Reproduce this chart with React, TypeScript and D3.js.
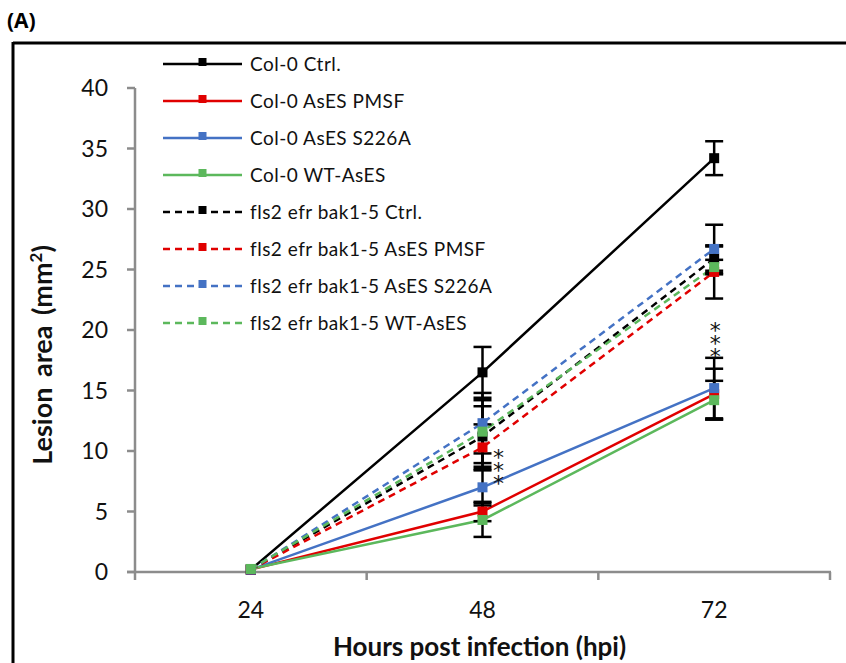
import React from "react";
import * as d3 from "d3";

const hours = ["24", "48", "72"];
const seriesNames = [
  "Col-0 Ctrl.",
  "Col-0 AsES PMSF",
  "Col-0 AsES S226A",
  "Col-0 WT-AsES",
  "fls2 efr bak1-5 Ctrl.",
  "fls2 efr bak1-5 AsES PMSF",
  "fls2 efr bak1-5 AsES S226A",
  "fls2 efr bak1-5 WT-AsES",
];
const seriesColors = ["#000000", "#e00000", "#4472c4", "#5cb85c", "#000000", "#e00000", "#4472c4", "#5cb85c"];
const seriesDashed = [false, false, false, false, true, true, true, true];

const colCtrl = [0.2, 16.5, 34.2];
const colPmsf = [0.2, 5.0, 14.7];
const colS226a = [0.2, 7.0, 15.2];
const colWt = [0.25, 4.3, 14.2];
const mutCtrl = [0.2, 11.2, 25.9];
const mutPmsf = [0.2, 10.3, 24.8];
const mutS226a = [0.2, 12.3, 26.7];
const mutWt = [0.25, 11.6, 25.2];
const seriesValues = [colCtrl, colPmsf, colS226a, colWt, mutCtrl, mutPmsf, mutS226a, mutWt];

const errColCtrl = [0, 2.1, 1.4];
const errColPmsf = [0, 0.8, 2.1];
const errColS226a = [0, 1.5, 2.5];
const errColWt = [0, 1.4, 1.6];
const errMutCtrl = [0, 2.5, 1.0];
const errMutPmsf = [0, 1.9, 2.2];
const errMutS226a = [0, 2.5, 2.0];
const errMutWt = [0, 2.6, 0.6];
const seriesErrors = [errColCtrl, errColPmsf, errColS226a, errColWt, errMutCtrl, errMutPmsf, errMutS226a, errMutWt];

const yTicks = [0, 5, 10, 15, 20, 25, 30, 35, 40];
// significance marks: hour and the value at the centre of the top star
const starHours = ["48", "72"];
const starLabels = ["***", "***"];
const starValues = [9.85, 20.35];

const FONT = "Lato, 'Open Sans', 'DejaVu Sans', sans-serif";

export default function App() {
  const W = 846, H = 663;
  const left = 135, right = 830, top = 88, bottom = 572;
  const x = d3.scaleBand<string>().domain(hours).range([left, right]).padding(0);
  const cx = (h: string) => (x(h) as number) + x.bandwidth() / 2;
  const y = d3.scaleLinear().domain([0, 40]).range([bottom, top]);
  const line = d3
    .line<number>()
    .x((_, i) => cx(hours[i]))
    .y((d) => y(d));

  const bandEdges = [...hours.map((h) => x(h) as number), right];
  const axisColor = "#8c8c8c";
  const legendX0 = 163, legendX1 = 242, legendY0 = 64, legendStep = 37;

  return (
    <svg width={W} height={H} style={{ position: "absolute", left: 0, top: 0, background: "#fff" }} fontFamily={FONT}>
      <text x={7} y={28} fontSize={21} fontWeight="bold" fontFamily="'Open Sans', sans-serif">(A)</text>
      {/* frame */}
      <line x1={13} y1={43} x2={W} y2={43} stroke="#000" strokeWidth={3} />
      <line x1={13} y1={42} x2={13} y2={H} stroke="#000" strokeWidth={3} />

      {/* y axis */}
      <line x1={left} y1={top} x2={left} y2={bottom} stroke={axisColor} strokeWidth={2.5} />
      {yTicks.map((t) => (
        <g key={t}>
          <line x1={left - 8} x2={left} y1={y(t)} y2={y(t)} stroke={axisColor} strokeWidth={2.5} />
          <text x={left - 27} y={y(t)} dy="0.36em" textAnchor="end" fontSize={23} fill="#111">{t}</text>
        </g>
      ))}
      {/* x axis */}
      <line x1={left - 8} x2={right + 1} y1={bottom} y2={bottom} stroke={axisColor} strokeWidth={2.5} />
      {bandEdges.map((e, i) => (
        <line key={i} x1={e} x2={e} y1={bottom} y2={bottom + 8} stroke={axisColor} strokeWidth={2.5} />
      ))}
      {hours.map((h) => (
        <text key={h} x={cx(h)} y={618} textAnchor="middle" fontSize={23} fill="#111">{h}</text>
      ))}
      <text x={(left + right) / 2 - 3} y={656} textAnchor="middle" fontSize={26} fontWeight="bold" fill="#111">
        Hours post infection (hpi)
      </text>
      <text
        transform={`translate(52, ${(top + bottom) / 2 + 25}) rotate(-90)`}
        textAnchor="middle"
        fontSize={27}
        fontWeight="bold"
        fill="#111"
        wordSpacing={4}
      >
        Lesion area (mm<tspan dy={-10} fontSize={17}>2</tspan><tspan dy={10}>)</tspan>
      </text>

      {/* lines */}
      {seriesValues.map((vals, si) => (
        <path
          key={"l" + si}
          d={line(vals) || ""}
          fill="none"
          stroke={seriesColors[si]}
          strokeWidth={2.5}
          strokeDasharray={seriesDashed[si] ? "7 5" : undefined}
        />
      ))}
      {/* error bars */}
      {seriesValues.map((vals, si) =>
        vals.map((v, i) => {
          const e = seriesErrors[si][i];
          if (!e) return null;
          const px = cx(hours[i]);
          return (
            <g key={"e" + si + "-" + i} stroke="#000" strokeWidth={2.5}>
              <line x1={px} x2={px} y1={y(v - e)} y2={y(v + e)} />
              <line x1={px - 9} x2={px + 9} y1={y(v - e)} y2={y(v - e)} />
              <line x1={px - 9} x2={px + 9} y1={y(v + e)} y2={y(v + e)} />
            </g>
          );
        })
      )}
      {/* markers */}
      {seriesValues.map((vals, si) =>
        vals.map((v, i) => (
          <rect
            key={"m" + si + "-" + i}
            x={cx(hours[i]) - 5}
            y={y(v) - 5}
            width={10}
            height={10}
            fill={seriesColors[si]}
          />
        ))
      )}
      {/* significance stars, stacked vertically in one text */}
      {starHours.map((h, k) => {
        const sx = cx(h) + (k === 0 ? 16 : 1);
        const sy = y(starValues[k]) - 8;
        return (
          <text
            key={"s" + k}
            x={sx}
            y={sy}
            fontSize={22}
            fill="#111"
            fontFamily="'DejaVu Sans', sans-serif"
            style={{ writingMode: "vertical-rl", textOrientation: "upright" } as any}
            letterSpacing={-12}
          >
            {starLabels[k]}
          </text>
        );
      })}

      {/* legend */}
      {seriesNames.map((name, si) => {
        const ly = legendY0 + si * legendStep;
        return (
          <g key={"lg" + si}>
            <line
              x1={legendX0}
              x2={legendX1}
              y1={ly}
              y2={ly}
              stroke={seriesColors[si]}
              strokeWidth={2.5}
              strokeDasharray={seriesDashed[si] ? "7 5" : undefined}
            />
            <rect x={(legendX0 + legendX1) / 2 - 4} y={ly - 6} width={8} height={8} fill={seriesColors[si]} />
            <text x={250} y={ly} dy="0.35em" fontSize={19} letterSpacing={0.5} fill="#111">{name}</text>
          </g>
        );
      })}
    </svg>
  );
}
